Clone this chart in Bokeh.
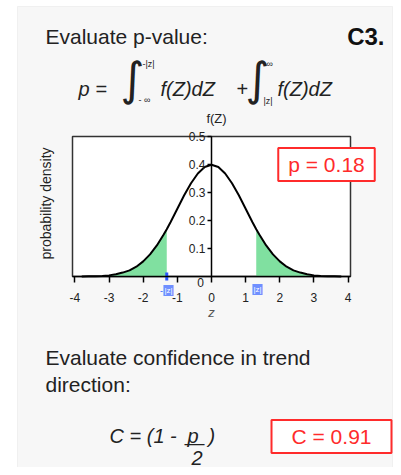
import numpy as np
from bokeh.plotting import figure
from bokeh.models import Label, FixedTicker, Range1d, LinearAxis, BoxAnnotation
from bokeh.embed import file_html
from bokeh.resources import INLINE

# ---- data ----
z_grid = [-3.8, -3.6, -3.4, -3.2, -3.0, -2.8, -2.6, -2.4, -2.2, -2.0, -1.8, -1.6, -1.4, -1.31,
          -1.2, -1.0, -0.8, -0.6, -0.4, -0.2, 0.0, 0.2, 0.4, 0.6, 0.8, 1.0, 1.2, 1.31,
          1.4, 1.6, 1.8, 2.0, 2.2, 2.4, 2.6, 2.8, 3.0, 3.2, 3.4, 3.6, 3.8]
density = [0.000, 0.001, 0.001, 0.002, 0.004, 0.008, 0.014, 0.022, 0.035, 0.054, 0.079, 0.111, 0.150, 0.169,
           0.194, 0.242, 0.290, 0.333, 0.368, 0.391, 0.399, 0.391, 0.368, 0.333, 0.290, 0.242, 0.194, 0.169,
           0.150, 0.111, 0.079, 0.054, 0.035, 0.022, 0.014, 0.008, 0.004, 0.002, 0.001, 0.001, 0.000]
z_abs = 1.31
p_value = 0.18
confidence = 0.91
x_ticks = [-4, -3, -2, -1, 0, 1, 2, 3, 4]
x_tick_labels = ["-4", "-3", "-2", "-1", "0", "1", "2", "3", "4"]
y_ticks = [0.1, 0.2, 0.3, 0.4, 0.5]
y_tick_labels = ["0.1", "0.2", "0.3", "0.4", "0.5"]
x_limits = (-4.07, 4.07)
y_limits = (0.0, 0.5)

FONT = "Liberation Sans"
TXT = "#222222"
RED = "#ff2b2b"
GREEN = "#80e0a0"
BLUE = "#2a55ff"

# ---- layout (picture pixels) ----
W, H = 393, 467
CH_L, CH_R, CH_T, CH_B = 72, 350, 136, 276   # chart box in the picture
kx = (CH_R - CH_L) / (x_limits[1] - x_limits[0])
ky = (CH_B - CH_T) / (y_limits[1] - y_limits[0])
x_range = Range1d(x_limits[0] - CH_L / kx, x_limits[1] + (W - CH_R) / kx)
y_range = Range1d(y_limits[0] - (H - CH_B) / ky, y_limits[1] + CH_T / ky)

p = figure(width=W, height=H, x_range=x_range, y_range=y_range,
           output_backend="svg", toolbar_location=None, title=None,
           x_axis_location=None, y_axis_location=None, min_border=0,
           background_fill_color="white", border_fill_color="white", outline_line_color=None)
p.grid.visible = False

# panel behind everything
p.add_layout(BoxAnnotation(left=17, right=W - 1, top=H - 6, bottom=-5,
                           left_units="screen", right_units="screen",
                           top_units="screen", bottom_units="screen",
                           fill_color="#f7f7f7", fill_alpha=1.0, line_color="#d6d6d6",
                           line_width=1, level="underlay"))

# chart box
p.quad(left=[x_limits[0]], right=[x_limits[1]], bottom=[y_limits[0]], top=[y_limits[1]],
       fill_color="white", line_color="#333333", line_width=1.5)

zg = np.array(z_grid)
dg = np.array(density)
left = zg <= -z_abs
right = zg >= z_abs
p.varea(x=zg[left], y1=0, y2=dg[left], fill_color=GREEN)
p.varea(x=zg[right], y1=0, y2=dg[right], fill_color=GREEN)
p.line(zg, dg, line_color="black", line_width=2)
p.segment(x0=[-z_abs], y0=[-0.014], x1=[-z_abs], y1=[0.014], line_color=BLUE, line_width=3)

xa = LinearAxis(fixed_location=0, bounds=x_limits)
xa.ticker = FixedTicker(ticks=x_ticks, minor_ticks=[])
xa.major_label_overrides = {t: s for t, s in zip(x_ticks, x_tick_labels)}
xa.major_tick_out = 6
xa.major_tick_in = 0
xa.axis_line_color = "black"
xa.axis_line_width = 1.5
xa.major_tick_line_width = 1.5
xa.major_label_standoff = 10
xa.major_label_text_font = FONT
xa.major_label_text_font_size = "12px"
xa.major_label_text_color = TXT
xa.axis_label = "z"
xa.axis_label_text_font = FONT
xa.axis_label_text_font_style = "italic"
xa.axis_label_text_font_size = "13px"
xa.axis_label_text_color = "#555555"
xa.axis_label_standoff = 0
p.add_layout(xa, "below")

ya = LinearAxis(fixed_location=0, bounds=y_limits)
ya.ticker = FixedTicker(ticks=y_ticks, minor_ticks=[])
ya.major_label_overrides = {t: s for t, s in zip(y_ticks, y_tick_labels)}
ya.major_tick_out = 4
ya.major_tick_in = 0
ya.axis_line_color = "black"
ya.axis_line_width = 1.5
ya.major_tick_line_width = 1.5
ya.major_label_standoff = 2
ya.major_label_text_font = FONT
ya.major_label_text_font_size = "12px"
ya.major_label_text_color = TXT
p.add_layout(ya, "left")


def lab(text, X, Y, size="21px", style="normal", color=TXT, align="left", baseline="alphabetic",
        font=FONT, **kw):
    l = Label(x=X, y=H - Y, x_units="screen", y_units="screen", text=text,
              text_font=font, text_font_size=size, text_font_style=style, text_color=color,
              text_align=align, text_baseline=baseline, **kw)
    p.add_layout(l)
    return l


# header
lab("Evaluate p-value:", 45, 36)
lab("C3.", 384, 36, size="24px", style="bold", align="right", color="#111111")

# integral formula
lab("p =", 78, 88, size="20px", style="italic")
lab("\u222b", 120, 78, size="46px", baseline="middle", font="DejaVu Sans")
lab("-|z|", 142, 63, size="9px", baseline="middle")
lab("- \u221e", 138, 99, size="9px", baseline="middle")
lab("f(Z)dZ", 160, 88, size="20px", style="italic")
lab("+", 236, 88, size="20px")
lab("\u222b", 245, 78, size="46px", baseline="middle", font="DejaVu Sans")
lab("\u221e", 266, 63, size="9px", baseline="middle")
lab("|z|", 263, 100, size="9px", baseline="middle")
lab("f(Z)dZ", 277, 88, size="20px", style="italic")

# chart texts
lab("f(Z)", 216, 118, size="13px", align="center", baseline="middle")
lab("probability density", 45, 203, size="14px", align="center", baseline="middle", angle=np.pi / 2)
lab("0", 200, 282, size="12px", align="center", baseline="middle")
lab("p = %.2f" % p_value, 326, 164, size="21px", color=RED, align="center", baseline="middle",
    background_fill_color="white", border_line_color=RED, border_line_width=2, padding=(10, 5))
lab("-", 161, 290, size="9px", color=BLUE, align="center", baseline="middle")
lab("|z|", 168, 290, size="8px", color="white", align="center", baseline="middle",
    background_fill_color="#6f8fff", padding=1)
lab("|z|", 257, 289, size="8px", color="white", align="center", baseline="middle",
    background_fill_color="#6f8fff", padding=1)

# confidence section
lab("Evaluate confidence in trend", 45, 357)
lab("direction:", 45, 384)
lab("C = (1 -", 109, 435, size="20px", style="italic")
lab("p", 187, 435, size="20px", style="italic")
lab(")", 208, 435, size="20px", style="italic")
lab("\u2014", 184, 442, size="20px")
lab("2", 191, 457, size="20px", style="italic")
lab("C = %.2f" % confidence, 331, 436, size="21px", color=RED, align="center", baseline="middle",
    background_fill_color="white", border_line_color=RED, border_line_width=2, padding=(20, 5))

open("out.html", "w").write(file_html(p, INLINE))
